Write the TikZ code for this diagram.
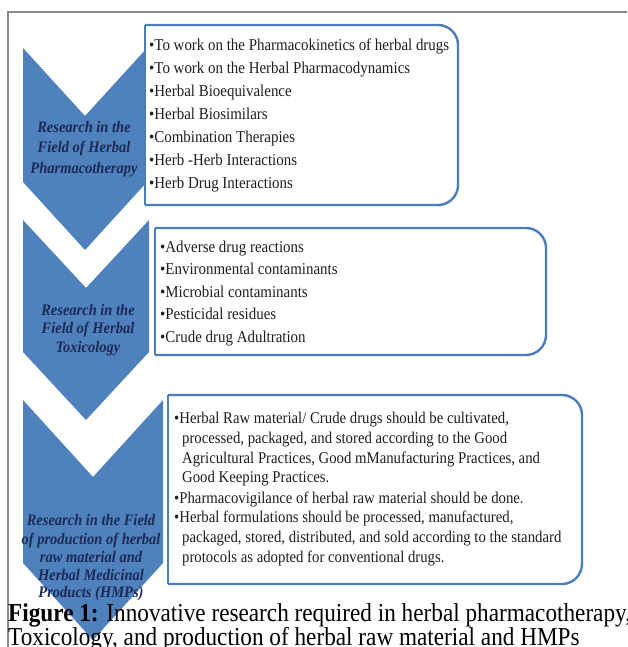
\documentclass[tikz,border=0pt]{standalone}
\usepackage{fontspec}
\setmainfont{Liberation Serif}[FakeStretch=0.9]
\definecolor{chevblue}{HTML}{4F81BD}
\definecolor{boxblue}{HTML}{4A7EBB}
\definecolor{navy}{HTML}{1B2A56}
\definecolor{bodyc}{HTML}{1E1E1E}
\definecolor{framec}{HTML}{8A8A86}
\tikzset{
  chevfill/.style={fill=chevblue},
  boxline/.style={draw=boxblue, line width=2.4pt, fill=white, rounded corners=20pt},
  boxedge/.style={draw=boxblue, line width=2.4pt, line cap=square},
  bodytxt/.style={anchor=base west, inner sep=0pt, font=\fontsize{16.6}{19}\selectfont, text=bodyc},
  smalltxt/.style={anchor=base west, inner sep=0pt, font=\fontsize{16.4}{19}\selectfont, text=bodyc},
  chevtxt/.style={anchor=base, inner sep=0pt, font=\fontsize{16.1}{19}\selectfont\bfseries\itshape, text=navy},
  captxt/.style={anchor=base west, inner sep=0pt, font=\fontsize{25.8}{28}\selectfont, text=black}
}
\begin{document}
\begin{tikzpicture}[x=1pt,y=-1pt]
\useasboundingbox (0,0) rectangle (627,647);
\fill[white] (0,0) rectangle (627,647);
% frame
\draw[framec, line width=1.2pt] (8,647) -- (8,12) -- (627,12);
% chevrons
\fill[chevfill] (23,48) -- (85,116) -- (147,48) -- (147,182) -- (85,250) -- (23,182) -- cycle;
\fill[chevfill] (23,220) -- (86,288) -- (149,220) -- (149,352) -- (86,420) -- (23,352) -- cycle;
\fill[chevfill] (23,400) -- (93,477) -- (163,400) -- (163,563) -- (93,640) -- (23,563) -- cycle;
% boxes
\path[boxline] (145,25) -- (458,25) -- (458,205) -- (145,205);
\draw[boxedge] (145,25) -- (145,205);
\path[boxline] (155,228) -- (546,228) -- (546,355) -- (155,355);
\draw[boxedge] (155,228) -- (155,355);
\path[boxline] (168,395) -- (582,395) -- (582,584) -- (168,584);
\draw[boxedge] (168,395) -- (168,584);
% box 1 text
\foreach \t [count=\i from 0] in {{To work on the Pharmacokinetics of herbal drugs},
  {To work on the Herbal Pharmacodynamics},{Herbal Bioequivalence},{Herbal Biosimilars},
  {Combination Therapies},{Herb -Herb Interactions},{Herb Drug Interactions}}
  \node[bodytxt] (a\i) at (149,51+23*\i) {•\t};
% box 2 text
\foreach \t [count=\i from 0] in {{Adverse drug reactions},{Environmental contaminants},
  {Microbial contaminants},{Pesticidal residues},{Crude drug Adultration}}
  \node[bodytxt] (b\i) at (160,252+22.5*\i) {•\t};
% box 3 text
\node[smalltxt] (c0) at (174,423) {•Herbal Raw material/ Crude drugs should be cultivated,};
\node[smalltxt] (c1) at (182,443) {processed, packaged, and stored according to the Good};
\node[smalltxt] (c2) at (182,463) {Agricultural Practices, Good mManufacturing Practices, and};
\node[smalltxt] (c3) at (182,482) {Good Keeping Practices.};
\node[smalltxt] (c4) at (174,503) {•Pharmacovigilance of herbal raw material should be done.};
\node[smalltxt] (c5) at (174,522) {•Herbal formulations should be processed, manufactured,};
\node[smalltxt] (c6) at (182,542) {packaged, stored, distributed, and sold according to the standard};
\node[smalltxt] (c7) at (182,562) {protocols as adopted for conventional drugs.};
% chevron labels
\node[chevtxt] (p0) at (84,133) {Research in the};
\node[chevtxt] (p1) at (84,153) {Field of Herbal};
\node[chevtxt] (p2) at (84,173) {Pharmacotherapy};
\node[chevtxt] (q0) at (88,315) {Research in the};
\node[chevtxt] (q1) at (88,333.5) {Field of Herbal};
\node[chevtxt] (q2) at (88,352) {Toxicology};
\node[chevtxt] (r0) at (91,525) {Research in the Field};
\node[chevtxt] (r1) at (91,544) {of production of herbal};
\node[chevtxt] (r2) at (91,562) {raw material and};
\node[chevtxt] (r3) at (91,580) {Herbal Medicinal};
\node[chevtxt] (r4) at (91,597.5) {Products (HMPs)};
% caption
\node[captxt] (cap1) at (8,621.5) {\textbf{Figure 1:} Innovative research required in herbal pharmacotherapy,};
\node[captxt] (cap2) at (8,645) {Toxicology, and production of herbal raw material and HMPs};
\end{tikzpicture}
\end{document}
